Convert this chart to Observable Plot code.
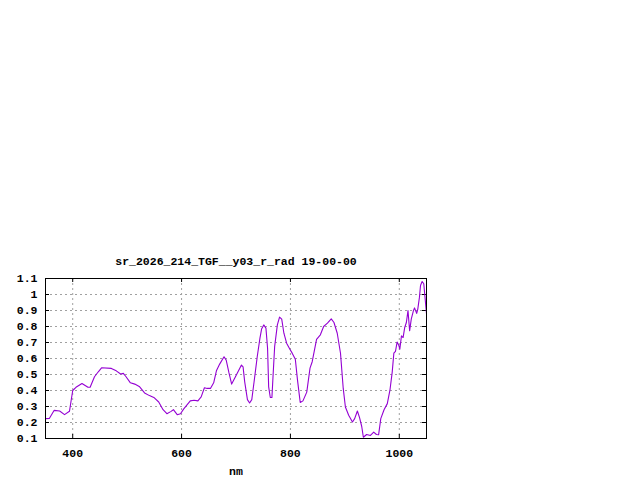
<!DOCTYPE html>
<html>
<head>
<meta charset="utf-8">
<script src="https://cdn.jsdelivr.net/npm/d3@7"></script>
<script src="https://cdn.jsdelivr.net/npm/@observablehq/plot@0.6"></script>
<style>
  html, body { margin: 0; padding: 0; background: #fff; }
  #chart { width: 640px; height: 480px; }
  svg { display: block; }
</style>
</head>
<body>
<div id="chart"></div>
<script>
const titleText = "sr_2026_214_TGF__y03_r_rad 19-00-00";
const xLabel = "nm";

const wavelength = [350, 357, 366, 376, 385, 394, 400, 406, 417, 428, 432, 440, 447, 453, 471, 480, 488, 493, 498, 506, 514, 523, 532, 541, 550, 558, 566, 573, 580, 585, 592, 598, 604, 616, 623, 630, 636, 642, 647, 653, 659, 664, 670, 678, 682, 687, 692, 699, 710, 713, 716, 721, 725, 729, 734, 739, 744, 747, 751, 755, 758, 760, 763, 766, 768, 771, 776, 780, 784, 788, 793, 799, 803, 809, 813, 818, 823, 830, 836, 840, 848, 855, 861, 868, 875, 880, 886, 892, 897, 901, 907, 914, 918, 923, 927, 931, 934, 940, 947, 953, 958, 962, 966, 972, 978, 983, 987, 990, 993, 996, 999, 1001, 1004, 1007, 1010, 1013, 1016, 1019, 1022, 1026, 1028, 1032, 1034, 1037, 1039, 1042, 1045, 1047, 1050];

const radiance = [0.224, 0.225, 0.276, 0.272, 0.249, 0.27, 0.40, 0.42, 0.444, 0.42, 0.42, 0.486, 0.517, 0.542, 0.538, 0.523, 0.503, 0.507, 0.486, 0.448, 0.44, 0.423, 0.385, 0.368, 0.354, 0.328, 0.28, 0.255, 0.268, 0.28, 0.249, 0.255, 0.285, 0.335, 0.339, 0.335, 0.36, 0.417, 0.413, 0.413, 0.448, 0.523, 0.565, 0.611, 0.59, 0.511, 0.44, 0.486, 0.559, 0.548, 0.454, 0.343, 0.322, 0.343, 0.475, 0.611, 0.727, 0.784, 0.81, 0.79, 0.664, 0.423, 0.356, 0.356, 0.486, 0.674, 0.81, 0.859, 0.846, 0.758, 0.696, 0.658, 0.635, 0.595, 0.465, 0.325, 0.335, 0.39, 0.54, 0.58, 0.72, 0.748, 0.80, 0.821, 0.848, 0.825, 0.758, 0.633, 0.413, 0.297, 0.245, 0.203, 0.224, 0.272, 0.23, 0.175, 0.108, 0.125, 0.119, 0.14, 0.125, 0.123, 0.224, 0.28, 0.318, 0.406, 0.515, 0.633, 0.645, 0.703, 0.683, 0.658, 0.742, 0.731, 0.794, 0.825, 0.899, 0.773, 0.846, 0.899, 0.916, 0.882, 0.909, 0.982, 1.056, 1.081, 1.067, 0.993, 0.88];

const xTicks = [400, 600, 800, 1000];
const yTicks = [0.1, 0.2, 0.3, 0.4, 0.5, 0.6, 0.7, 0.8, 0.9, 1, 1.1];
const xDomain = [350, 1050];
const yDomain = [0.1, 1.1];

const data = wavelength.map((w, i) => ({w, v: radiance[i]}));

const W = 640, H = 480;
const mL = 45, mR = 214, mT = 278, mB = 42;
const fw = W - mL - mR, fh = H - mT - mB;
const tk = 4;
const font = "'Liberation Mono', 'DejaVu Sans Mono', monospace";
const fmt = d3.format("~g");

const chart = Plot.plot({
  width: W,
  height: H,
  marginLeft: mL,
  marginRight: mR,
  marginTop: mT,
  marginBottom: mB,
  style: {fontFamily: font, fontSize: "11.5px", fontWeight: "bold", color: "#000", background: "#fff"},
  x: {domain: xDomain},
  y: {domain: yDomain},
  marks: [
    Plot.gridX(xTicks, {stroke: "#a0a0a0", strokeOpacity: 1, strokeDasharray: "2,3"}),
    Plot.gridY(yTicks, {stroke: "#a0a0a0", strokeOpacity: 1, strokeDasharray: "2,3"}),
    Plot.tickY(yTicks, {y: d => d, stroke: "#000", insetRight: fw - tk}),
    Plot.tickY(yTicks, {y: d => d, stroke: "#000", insetLeft: fw - tk}),
    Plot.tickX(xTicks, {x: d => d, stroke: "#000", insetTop: fh - tk}),
    Plot.tickX(xTicks, {x: d => d, stroke: "#000", insetBottom: fh - tk}),
    Plot.axisY(yTicks, {tickSize: 0, tickPadding: 8, label: null, tickFormat: fmt, fontWeight: "bold"}),
    Plot.axisX(xTicks, {tickSize: 0, tickPadding: 10, label: null, tickFormat: fmt, fontWeight: "bold"}),
    Plot.line(data, {x: "w", y: "v", stroke: "#9400d3", strokeWidth: 1.1, clip: true}),
    Plot.frame({stroke: "#000", strokeWidth: 1}),
    Plot.text([titleText], {frameAnchor: "top", dy: -22, text: d => d, fontWeight: "bold", fontSize: 11.5}),
    Plot.text([xLabel], {frameAnchor: "bottom", dy: 36, text: d => d, fontWeight: "bold", fontSize: 11.5})
  ]
});
document.getElementById("chart").appendChild(chart);
</script>
</body>
</html>
